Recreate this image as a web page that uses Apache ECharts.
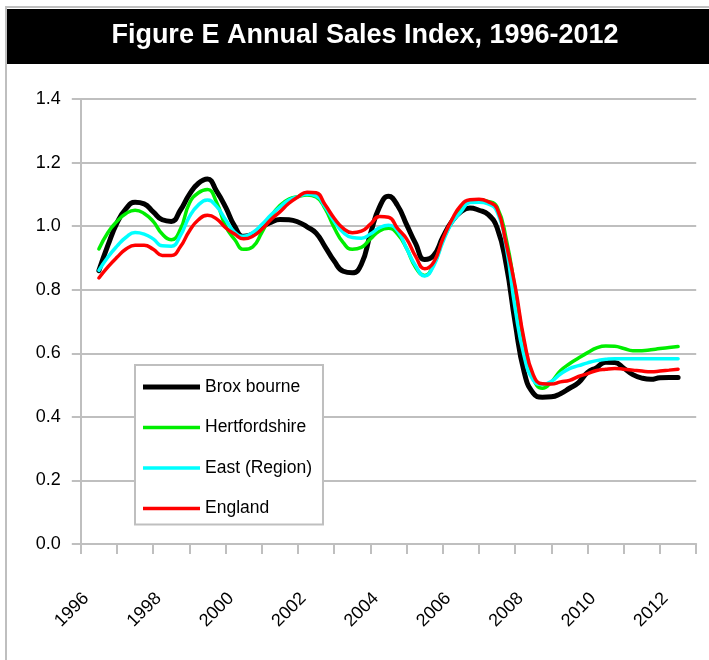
<!DOCTYPE html>
<html><head><meta charset="utf-8">
<script src="https://cdn.jsdelivr.net/npm/echarts@6/dist/echarts.min.js"></script>
<style>html,body{margin:0;padding:0;background:#fff}#c{width:709px;height:660px}</style>
</head><body><div id="c"></div>
<script>
const yearLabels = ['1996','1997','1998','1999','2000','2001','2002','2003','2004','2005','2006','2007','2008','2009','2010','2011','2012'];
const quarterYears = [1996,1996.25,1996.5,1996.75,1997,1997.25,1997.5,1997.75,1998,1998.25,1998.5,1998.75,1999,1999.25,1999.5,1999.75,2000,2000.25,2000.5,2000.75,2001,2001.25,2001.5,2001.75,2002,2002.25,2002.5,2002.75,2003,2003.25,2003.5,2003.75,2004,2004.25,2004.5,2004.75,2005,2005.25,2005.5,2005.75,2006,2006.25,2006.5,2006.75,2007,2007.25,2007.5,2007.75,2008,2008.25,2008.5,2008.75,2009,2009.25,2009.5,2009.75,2010,2010.25,2010.5,2010.75,2011,2011.25,2011.5,2011.75,2012];
const seriesNames = ['Brox bourne','Hertfordshire','East (Region)','England'];
const broxbourne = [0.86,0.94,1.01,1.055,1.075,1.07,1.045,1.02,1.015,1.05,
  1.10,1.135,1.148,1.11,1.06,1.0,0.968,0.975,0.997,1.012,
  1.021,1.02,1.013,0.998,0.978,0.935,0.89,0.858,0.853,0.88,
  0.975,1.06,1.094,1.065,1.005,0.945,0.895,0.908,0.965,1.015,
  1.045,1.057,1.05,1.037,0.995,0.88,0.695,0.54,0.474,0.462,
  0.463,0.473,0.49,0.508,0.54,0.555,0.572,0.571,0.553,0.533,
  0.522,0.518,0.523,0.524,0.524];
const hertfordshire = [0.928,0.98,1.015,1.04,1.05,1.04,1.015,0.975,0.957,0.99,
  1.072,1.105,1.115,1.075,1.0,0.958,0.927,0.935,0.98,1.03,
  1.065,1.085,1.093,1.098,1.092,1.055,0.995,0.948,0.927,0.933,
  0.96,0.985,0.993,0.975,0.93,0.87,0.845,0.88,0.955,1.015,
  1.055,1.078,1.082,1.078,1.06,0.96,0.80,0.63,0.52,0.49,
  0.51,0.545,0.567,0.585,0.602,0.617,0.623,0.622,0.615,0.608,
  0.608,0.611,0.615,0.618,0.621];
const eastRegion = [0.861,0.903,0.937,0.965,0.98,0.975,0.96,0.938,0.937,0.97,
  1.03,1.067,1.082,1.062,1.02,0.981,0.968,0.98,1.005,1.035,
  1.06,1.082,1.093,1.1,1.095,1.06,1.015,0.98,0.964,0.962,
  0.975,0.995,1.003,0.985,0.93,0.875,0.843,0.876,0.95,1.01,
  1.045,1.074,1.075,1.07,1.045,0.935,0.74,0.59,0.515,0.502,
  0.512,0.535,0.552,0.561,0.57,0.577,0.581,0.583,0.583,0.583,
  0.583,0.583,0.583,0.583,0.583];
const england = [0.837,0.872,0.902,0.928,0.94,0.94,0.927,0.908,0.908,0.935,
  0.985,1.02,1.034,1.023,0.995,0.975,0.96,0.968,0.99,1.02,
  1.045,1.072,1.092,1.107,1.105,1.067,1.025,0.993,0.979,0.984,
  1.006,1.03,1.028,0.993,0.96,0.905,0.866,0.887,0.96,1.02,
  1.065,1.083,1.085,1.077,1.055,0.945,0.81,0.64,0.532,0.504,
  0.503,0.51,0.515,0.527,0.536,0.546,0.55,0.552,0.55,0.547,
  0.544,0.542,0.544,0.547,0.55];
const yTicks = {min:0, max:1.4, interval:0.2};

const FONT = "'Liberation Sans', Arial, Helvetica, sans-serif";
function pairs(vals){ return vals.map((v,i)=>[quarterYears[i], v]); }
const styles = [
  {color:'#000000', width:5},
  {color:'#00ee00', width:3.5},
  {color:'#00ffff', width:3.5},
  {color:'#ff0000', width:3.5}
];
const allData = [broxbourne, hertfordshire, eastRegion, england];

const chart = echarts.init(document.getElementById('c'), null, {renderer:'canvas'});
chart.setOption({
  animation:false,
  textStyle:{fontFamily:FONT},
  graphic:[
    {type:'rect', silent:true, z:-10, shape:{x:6,y:7,width:730,height:700}, style:{fill:'none', stroke:'#BFBFBF', lineWidth:2}},
    {type:'rect', silent:true, shape:{x:7,y:9,width:720,height:55}, style:{fill:'#000'}},
    {type:'text', silent:true, style:{x:365, y:36, text:'Figure E Annual Sales Index, 1996-2012', fill:'#fff', font:"bold 27px 'Liberation Sans', Arial, sans-serif", textAlign:'center', textVerticalAlign:'middle'}}
  ],
  grid:{left:80.8, right:12.8, top:99, bottom:116},
  xAxis:[
    {type:'category', data:yearLabels, boundaryGap:true,
     axisLine:{lineStyle:{color:'#BFBFBF', width:2}},
     axisTick:{show:true, interval:0, length:10, lineStyle:{color:'#BFBFBF', width:2}},
     axisLabel:{interval:1, rotate:45, margin:39, color:'#000', fontSize:18, fontFamily:FONT, padding:[0,18,0,0]},
     splitLine:{show:false}},
    {type:'value', min:1995.5, max:2012.5, show:false}
  ],
  yAxis:{type:'value', min:yTicks.min, max:yTicks.max, interval:yTicks.interval,
    axisLine:{show:true, lineStyle:{color:'#BFBFBF', width:2}},
    axisTick:{show:true, length:9, lineStyle:{color:'#BFBFBF', width:2}},
    axisLabel:{color:'#000', fontSize:18, margin:20, fontFamily:FONT, formatter:v=>v.toFixed(1)},
    splitLine:{lineStyle:{color:'#BFBFBF', width:2}}},
  legend:{orient:'vertical', left:135, top:365, padding:[13,11,7,8], itemGap:22.5,
    itemWidth:57, itemHeight:18, borderColor:'#BFBFBF', borderWidth:2, backgroundColor:'#fff',
    textStyle:{fontSize:17.5, color:'#000', fontFamily:FONT},
    data: seriesNames.map((n,i)=>({name:n, icon:'path://M0,0 L57,0 L57,' + styles[i].width + ' L0,' + styles[i].width + ' Z'}))},
  series: allData.map((d,i)=>({
    name:seriesNames[i], type:'line', xAxisIndex:1, data:pairs(d),
    showSymbol:false, symbol:'none', smooth:0.5,
    lineStyle:{color:styles[i].color, width:styles[i].width, cap:'round', join:'round'},
    itemStyle:{color:styles[i].color}
  }))
});
</script></body></html>
